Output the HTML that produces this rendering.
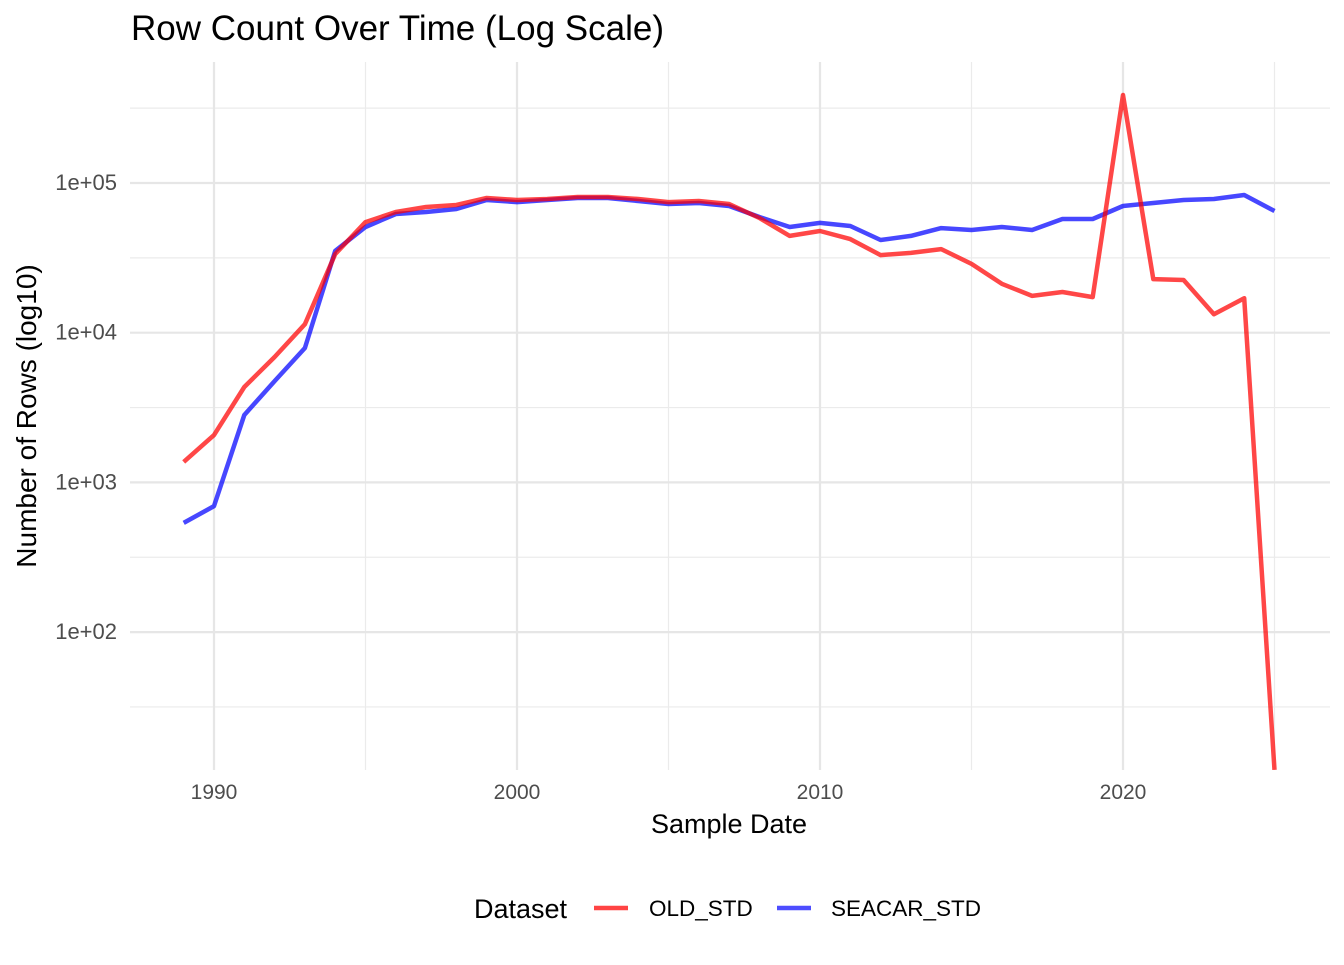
<!DOCTYPE html>
<html><head><meta charset="utf-8"><style>
body{margin:0;background:#fff;font-family:"Liberation Sans",sans-serif;}
</style></head><body>
<svg id="chart" width="1344" height="960" xmlns="http://www.w3.org/2000/svg" style="font-family:'Liberation Sans',sans-serif">
<text x="131" y="40" font-size="35" fill="#000">Row Count Over Time (Log Scale)</text>
<g id="grid"></g>
<g id="axes"></g>
<g id="lines"></g>
<text x="729" y="833" font-size="27" text-anchor="middle" fill="#000">Sample Date</text>
<text transform="translate(36,416) rotate(-90)" font-size="28" text-anchor="middle" fill="#000">Number of Rows (log10)</text>
<g>
<text x="474" y="918" font-size="27">Dataset</text>
<g><line x1="594" x2="628" y1="908" y2="908" stroke="#ff4444" stroke-width="4.5"/><text x="649" y="916" font-size="22.5">OLD_STD</text></g>
<g><line x1="777" x2="811" y1="908" y2="908" stroke="#4d4dff" stroke-width="4.5"/><text x="831" y="916" font-size="22.5">SEACAR_STD</text></g>
</g>
</svg>
<script>
const years=[1989,1990,1991,1992,1993,1994,1995,1996,1997,1998,1999,2000,2001,2002,2003,2004,2005,2006,2007,2008,2009,2010,2011,2012,2013,2014,2015,2016,2017,2018,2019,2020,2021,2022,2023,2024,2025];
const oldStd=[1370,2070,4340,6880,11400,33500,54800,64000,69100,71300,79400,77000,78200,80600,80600,78200,74600,75800,72400,58400,44300,47800,42200,33000,34100,36200,28800,21200,17600,18700,17300,387000,22800,22500,13300,17000,12];
const seacarStd=[536,695,2820,4750,7900,35200,50800,62100,64000,67000,77000,74600,77000,79400,79400,75800,72400,73500,70200,59300,50800,54100,51600,41600,44300,50000,48500,50800,48500,57500,57500,70200,73500,77000,78200,83100,65000];
const xTicks=[1990,2000,2010,2020];
const xMinor=[1995,2005,2015,2025];
const yTicks=[2,3,4,5];
const yTickLabels=["1e+02","1e+03","1e+04","1e+05"];
const NS="http://www.w3.org/2000/svg";
function xs(y){return 214+(y-1990)*30.3;}
function ys(v){return 183+(5-Math.log10(v))*149.7;}
const grid=document.getElementById('grid'),axes=document.getElementById('axes'),lines=document.getElementById('lines');
function mk(tag,attrs,parent){const e=document.createElementNS(NS,tag);for(const k in attrs)e.setAttribute(k,attrs[k]);parent.appendChild(e);return e;}
for(const m of [1.5,2.5,3.5,4.5,5.5]){const y=183+(5-m)*149.7;const l=mk('line',{x1:130,x2:1330,y1:y,y2:y,stroke:'#ebebeb','stroke-width':1.2},grid);

}
for(const t of xMinor){const x=xs(t);const l=mk('line',{x1:x,x2:x,y1:62,y2:770,stroke:'#ebebeb','stroke-width':1.2},grid);

}
yTicks.forEach((t,i)=>{const y=183+(5-t)*149.7;const l=mk('line',{x1:130,x2:1330,y1:y,y2:y,stroke:'#e6e6e6','stroke-width':2.2},grid);


const tx=mk('text',{x:117,y:y+7,'font-size':22,'text-anchor':'end',fill:'#4d4d4d'},axes);tx.textContent=yTickLabels[i];

});
xTicks.forEach(t=>{const x=xs(t);const l=mk('line',{x1:x,x2:x,y1:62,y2:770,stroke:'#e6e6e6','stroke-width':2.2},grid);


const tx=mk('text',{x:x,y:799,'font-size':21,'text-anchor':'middle',fill:'#4d4d4d'},axes);tx.textContent=t;

});
function series(vals,color,name){const d=vals.map((v,i)=>(i?'L':'M')+xs(years[i]).toFixed(1)+','+ys(v).toFixed(1)).join(' ');
const p=mk('path',{d:d,fill:'none',stroke:color,'stroke-width':4.5,'stroke-opacity':0.72,'stroke-linejoin':'round'},lines);

}
series(seacarStd,'#0000ff','line-seacar-std');
series(oldStd,'#ff0000','line-old-std');
</script>
</body></html>
